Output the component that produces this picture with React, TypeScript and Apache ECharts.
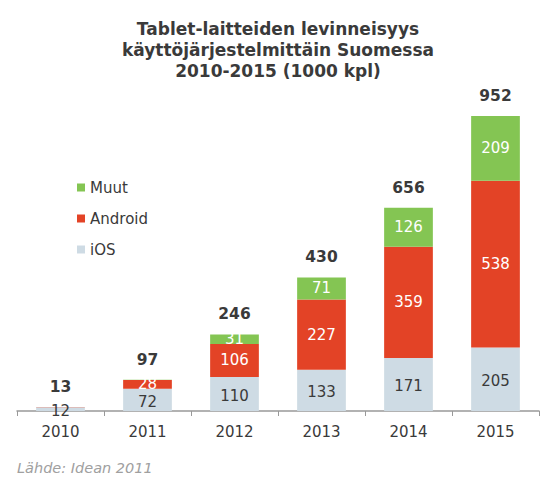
import React, { useEffect, useRef } from "react";
import * as echarts from "echarts";

const categories = ["2010", "2011", "2012", "2013", "2014", "2015"];
const iosValues = [12, 72, 110, 133, 171, 205];
const androidValues = [1, 28, 106, 227, 359, 538];
const muutValues = [0, 1, 31, 71, 126, 209];
const totalLabels = [13, 97, 246, 430, 656, 952];

const FONT = "DejaVu Sans, Verdana, sans-serif";

export default function App() {
  const ref = useRef<HTMLDivElement>(null);
  useEffect(() => {
    if (!ref.current) return;
    const chart = echarts.init(ref.current, null, { renderer: "svg" });
    const insideLabel = (color: string, minShow: number) => ({
      show: true,
      position: "inside" as const,
      color,
      fontFamily: FONT,
      fontSize: 15,
      formatter: (p: any) => (p.value >= minShow ? String(p.value) : ""),
    });
    chart.setOption({
      animation: false,
      backgroundColor: "#ffffff",
      title: {
        text: "Tablet-laitteiden levinneisyys\nkäyttöjärjestelmittäin Suomessa\n2010-2015 (1000 kpl)",
        left: 273,
        top: 13,
        textAlign: "center",
        textStyle: {
          fontFamily: FONT,
          fontWeight: "bold",
          fontSize: 17,
          lineHeight: 21,
          color: "#3a3a3a",
        },
      },
      legend: {
        orient: "vertical",
        left: 72,
        top: 175,
        itemGap: 16,
        itemWidth: 8,
        itemHeight: 8,
        icon: "rect",
        data: ["Muut", "Android", "iOS"],
        textStyle: { fontFamily: FONT, fontSize: 15, color: "#3a3a3a" },
      },
      graphic: [
        {
          type: "text",
          left: 17,
          top: 460,
          style: {
            text: "Lähde: Idean 2011",
            fontFamily: FONT,
            fontStyle: "italic",
            fontSize: 14.5,
            fill: "#a0a0a0",
          },
        },
      ],
      grid: { left: 17, right: 18, top: 101, bottom: 84, containLabel: false },
      xAxis: {
        type: "category",
        data: categories,
        axisLine: { lineStyle: { color: "#999999", width: 1.5 } },
        axisTick: { show: true, length: 5, lineStyle: { color: "#999999" } },
        axisLabel: { fontFamily: FONT, fontSize: 15, color: "#3a3a3a", margin: 13 },
      },
      yAxis: { type: "value", min: 0, max: 1000, show: false },
      series: [
        {
          name: "iOS",
          type: "bar",
          stack: "s",
          barCategoryGap: "44%",
          data: iosValues,
          itemStyle: { color: "#cedbe4" },
          label: { ...insideLabel("#3a3a3a", 1), offset: [0, 2] },
        },
        {
          name: "Android",
          type: "bar",
          stack: "s",
          data: androidValues,
          itemStyle: { color: "#e34326" },
          label: insideLabel("#ffffff", 20),
        },
        {
          name: "Muut",
          type: "bar",
          stack: "s",
          data: muutValues,
          itemStyle: { color: "#84c553" },
          label: insideLabel("#ffffff", 20),
        },
        {
          name: "total",
          type: "bar",
          stack: "s",
          data: totalLabels.map(() => 0),
          itemStyle: { color: "transparent" },
          label: {
            show: true,
            position: "top",
            distance: 12,
            fontFamily: FONT,
            fontWeight: "bold",
            fontSize: 15.5,
            color: "#3a3a3a",
            formatter: (p: any) => String(totalLabels[p.dataIndex]),
          },
        },
      ],
    });
    return () => chart.dispose();
  }, []);
  return (
    <div
      ref={ref}
      style={{ position: "fixed", left: 0, top: 0, width: 557, height: 495 }}
    />
  );
}
